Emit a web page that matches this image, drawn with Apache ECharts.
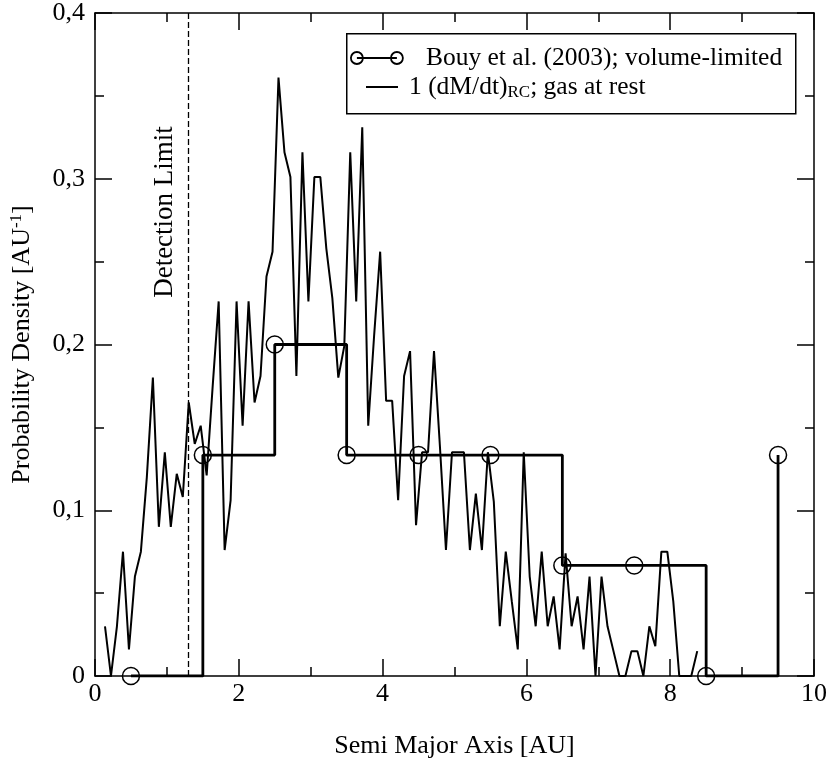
<!DOCTYPE html>
<html>
<head>
<meta charset="utf-8">
<script src="https://cdn.jsdelivr.net/npm/echarts@6/dist/echarts.min.js"></script>
<style>
  html, body { margin: 0; padding: 0; background: #fff; }
  #chart { width: 830px; height: 766px; }
</style>
</head>
<body>
<div id="chart"></div>
<script>
// Bouy et al. (2003) histogram, bin centres and values
var bouyAxis = [0.5, 1.5, 2.5, 3.5, 4.5, 5.5, 6.5, 7.5, 8.5, 9.5];
var bouyDensity = [0, 0.1333, 0.2, 0.1333, 0.1333, 0.1333, 0.0667, 0.0667, 0, 0.1333];

// 1 (dM/dt)_RC; gas at rest
var modelAxis = [
    0.139, 0.222, 0.305, 0.389, 0.472, 0.555, 0.638, 0.721, 0.805, 0.888,
    0.971, 1.054, 1.137, 1.221, 1.304, 1.387, 1.470, 1.553, 1.637, 1.720,
    1.803, 1.886, 1.969, 2.053, 2.136, 2.219, 2.302, 2.385, 2.469, 2.552,
    2.635, 2.718, 2.801, 2.885, 2.968, 3.051, 3.134, 3.217, 3.301, 3.384,
    3.467, 3.550, 3.633, 3.717, 3.800, 3.883, 3.966, 4.049, 4.133, 4.216,
    4.299, 4.382, 4.465, 4.549, 4.632, 4.715, 4.798, 4.881, 4.965, 5.048,
    5.131, 5.214, 5.297, 5.381, 5.464, 5.547, 5.630, 5.713, 5.797, 5.880,
    5.963, 6.046, 6.129, 6.213, 6.296, 6.379, 6.462, 6.545, 6.629, 6.712,
    6.795, 6.878, 6.961, 7.045, 7.128, 7.211, 7.294, 7.377, 7.461, 7.544,
    7.627, 7.710, 7.793, 7.877, 7.960, 8.043, 8.126, 8.209, 8.293, 8.376
];
var modelDensity = [
    0.030, 0.000, 0.030, 0.075, 0.016, 0.060, 0.075, 0.120, 0.180, 0.090,
    0.135, 0.090, 0.122, 0.108, 0.165, 0.140, 0.151, 0.121, 0.175, 0.226,
    0.076, 0.106, 0.226, 0.151, 0.226, 0.165, 0.181, 0.241, 0.256, 0.361,
    0.316, 0.301, 0.181, 0.316, 0.226, 0.301, 0.301, 0.258, 0.228, 0.180,
    0.199, 0.316, 0.226, 0.331, 0.151, 0.206, 0.256, 0.166, 0.166, 0.106,
    0.181, 0.196, 0.091, 0.135, 0.135, 0.196, 0.138, 0.076, 0.135, 0.135,
    0.135, 0.076, 0.110, 0.076, 0.135, 0.105, 0.030, 0.075, 0.045, 0.016,
    0.135, 0.060, 0.030, 0.075, 0.030, 0.048, 0.016, 0.074, 0.030, 0.048,
    0.016, 0.060, 0.000, 0.060, 0.030, 0.015, 0.000, 0.000, 0.015, 0.015,
    0.000, 0.030, 0.018, 0.075, 0.075, 0.045, 0.000, 0.000, 0.000, 0.015
];

var detectionLimit = 1.3;

var FONT = '"Liberation Serif", "DejaVu Serif", serif';
var bouyName = 'Bouy et al. (2003); volume-limited';
var modelName = '1 (dM/dt)RC; gas at rest';

function zip(xs, ys) {
    var out = [];
    for (var i = 0; i < xs.length; i++) {
        out.push([xs[i], ys[i]]);
    }
    return out;
}

function commaLabel(v) {
    if (v === 0) {
        return '0';
    }
    return v.toFixed(1).replace('.', ',');
}

var tickCommon = {
    axisLine: { show: true, onZero: false, lineStyle: { color: '#000', width: 1.5 } },
    axisTick: { show: true, inside: true, length: 17, lineStyle: { color: '#000', width: 1.5 } },
    minorTick: { show: true, splitNumber: 2, length: 9, lineStyle: { color: '#000', width: 1.5 } },
    splitLine: { show: false }
};

var myChart = echarts.init(document.getElementById('chart'));

var option = {
    backgroundColor: '#fff',
    animation: false,
    grid: {
        left: 95,
        right: 15,
        top: 11,
        bottom: 90
    },
    xAxis: [
        Object.assign({
            type: 'value',
            position: 'bottom',
            min: 0,
            max: 10,
            interval: 2,
            name: 'Semi Major Axis [AU]',
            nameLocation: 'middle',
            nameGap: 57,
            nameTextStyle: { fontFamily: FONT, fontSize: 26, color: '#000' },
            axisLabel: { fontFamily: FONT, fontSize: 26, color: '#000', margin: 5 }
        }, tickCommon),
        Object.assign({
            type: 'value',
            position: 'top',
            min: 0,
            max: 10,
            interval: 2,
            axisLabel: { show: false }
        }, tickCommon)
    ],
    yAxis: [
        Object.assign({
            type: 'value',
            position: 'left',
            min: 0,
            max: 0.4,
            interval: 0.1,
            name: 'Probability Density [AU{sup|-1}]',
            nameLocation: 'middle',
            nameRotate: 90,
            nameGap: 58,
            nameTextStyle: {
                fontFamily: FONT, fontSize: 26, color: '#000',
                rich: {
                    sup: { fontFamily: FONT, fontSize: 17, color: '#000', verticalAlign: 'top', padding: [0, 0, 12, 0] }
                }
            },
            axisLabel: {
                fontFamily: FONT, fontSize: 26, color: '#000', margin: 10,
                formatter: commaLabel
            }
        }, tickCommon),
        Object.assign({
            type: 'value',
            position: 'right',
            min: 0,
            max: 0.4,
            interval: 0.1,
            axisLabel: { show: false }
        }, tickCommon)
    ],
    legend: [
        {
            data: [{
                name: bouyName,
                icon: 'path://M0 6 A6 6 0 1 0 12 6 A6 6 0 1 0 0 6 Z M6 6 L46 6 M40 6 A6 6 0 1 0 52 6 A6 6 0 1 0 40 6 Z'
            }],
            left: 350,
            top: 45,
            padding: 0,
            itemWidth: 52,
            itemHeight: 12,
            selectedMode: false,
            itemStyle: { color: 'transparent', borderColor: '#000', borderWidth: 1.8 },
            textStyle: { fontFamily: FONT, fontSize: 25.5, color: '#000', padding: [0, 0, 0, 18] }
        },
        {
            data: [{ name: modelName, icon: 'rect' }],
            left: 366,
            top: 74,
            padding: 0,
            itemWidth: 32,
            itemHeight: 2,
            selectedMode: false,
            itemStyle: { color: '#000', borderWidth: 0 },
            formatter: function () {
                return '1 (dM/dt){sub|RC}; gas at rest';
            },
            textStyle: {
                fontFamily: FONT, fontSize: 25.5, color: '#000', padding: [0, 0, 0, 6],
                rich: {
                    sub: { fontFamily: FONT, fontSize: 17, color: '#000', verticalAlign: 'bottom', padding: [12, 0, 0, 0] }
                }
            }
        }
    ],
    graphic: [
        {
            type: 'rect',
            left: 346,
            top: 33,
            z: 1,
            shape: { width: 449, height: 80 },
            style: { fill: 'transparent', stroke: '#000', lineWidth: 1.5 }
        },
        {
            type: 'text',
            x: 165,
            y: 212,
            rotation: Math.PI / 2,
            style: {
                text: 'Detection Limit',
                fontFamily: FONT,
                fontSize: 27,
                fill: '#000',
                align: 'center',
                verticalAlign: 'middle'
            }
        }
    ],
    series: [
        {
            name: modelName,
            type: 'line',
            xAxisIndex: 0,
            yAxisIndex: 0,
            data: zip(modelAxis, modelDensity),
            symbol: 'none',
            lineStyle: { color: '#000', width: 2 },
            itemStyle: { color: '#000' },
            markLine: {
                silent: true,
                symbol: 'none',
                label: { show: false },
                lineStyle: { color: '#000', width: 1.3, type: [6, 3] },
                data: [{ xAxis: detectionLimit }]
            }
        },
        {
            name: bouyName,
            type: 'line',
            xAxisIndex: 0,
            yAxisIndex: 0,
            data: zip(bouyAxis, bouyDensity),
            step: 'end',
            symbol: 'circle',
            symbolSize: 17,
            lineStyle: { color: '#000', width: 2.8 },
            itemStyle: { color: 'transparent', borderColor: '#000', borderWidth: 1.5 }
        }
    ]
};

if (option && typeof option === 'object') {
    myChart.setOption(option, true);
}
</script>
</body>
</html>
